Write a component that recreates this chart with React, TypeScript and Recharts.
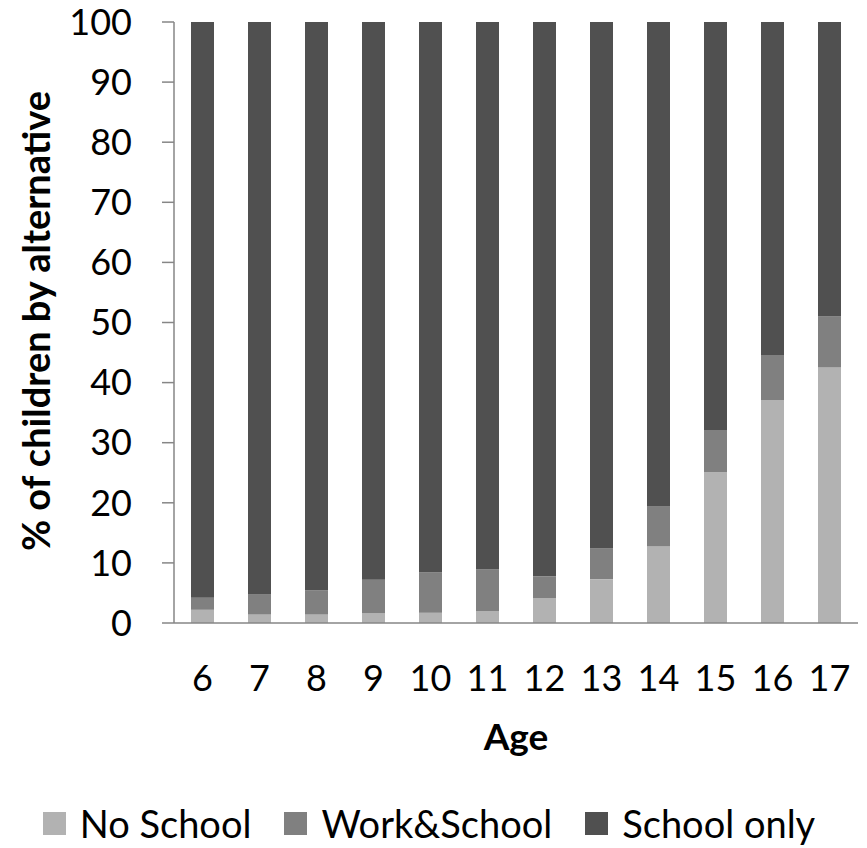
import React from 'react';
import { BarChart, Bar, XAxis, YAxis, Legend } from 'recharts';

// share of children at each age, by activity
const ages = ['6', '7', '8', '9', '10', '11', '12', '13', '14', '15', '16', '17'];
const noSchool = [2.2, 1.4, 1.4, 1.6, 1.7, 2.0, 4.1, 7.3, 12.8, 25.1, 37.1, 42.5];
const workSchool = [2.0, 3.4, 4.0, 5.6, 6.7, 6.9, 3.7, 5.1, 6.6, 7.0, 7.5, 8.5];
const schoolOnly = [95.8, 95.2, 94.6, 92.8, 91.6, 91.1, 92.2, 87.6, 80.6, 67.9, 55.4, 49.0];
const yTicks = [0, 10, 20, 30, 40, 50, 60, 70, 80, 90, 100];

const series = [
  { key: 'noSchool', name: 'No School', color: '#b2b2b2' },
  { key: 'workSchool', name: 'Work&School', color: '#808080' },
  { key: 'schoolOnly', name: 'School only', color: '#505050' },
];

const data = ages.map((age, i) => ({
  age,
  noSchool: noSchool[i],
  workSchool: workSchool[i],
  schoolOnly: schoolOnly[i],
}));

const FONT = 'Lato, Carlito, Calibri, sans-serif';
const AXIS_GREY = '#868686';

function YTitle() {
  return (
    <text x={50} y={321} transform="rotate(-90, 50, 321)" textAnchor="middle"
      fontFamily={FONT} fontWeight="bold" fontSize={38} fill="#000">
      % of children by alternative
    </text>
  );
}

function XTitle(props: any) {
  const vb = props.viewBox || {};
  const cx = vb.x + vb.width / 2;
  return (
    <text x={cx} y={750} textAnchor="middle" fontFamily={FONT} fontWeight="bold" fontSize={37} fill="#000">
      Age
    </text>
  );
}

function LegendRow() {
  return (
    <div style={{ display: 'flex', justifyContent: 'center', alignItems: 'center', height: 42, fontFamily: FONT, fontSize: 38, color: '#000' }}>
      {series.map((s, i) => (
        <div key={s.key} style={{ display: 'flex', alignItems: 'center', marginLeft: i ? 33 : 0 }}>
          <span style={{ width: 23, height: 23, background: s.color, display: 'inline-block', marginRight: 14 }} />
          <span style={{ lineHeight: 1 }}>{s.name}</span>
        </div>
      ))}
    </div>
  );
}

export default function App() {
  return (
    <div style={{ position: 'absolute', left: 0, top: 0, background: '#fff' }}>
      <BarChart width={867} height={848} data={data} barSize={23}
        margin={{ top: 22, right: 9, bottom: 4, left: 0 }}>
        <XAxis dataKey="age" height={179} tickLine={false} tickSize={0} tickMargin={42}
          axisLine={{ stroke: AXIS_GREY, strokeWidth: 1.5 }}
          tick={{ fill: '#000', fontSize: 36, fontFamily: FONT }}
          label={<XTitle />} />
        <YAxis width={174} domain={[0, 100]} ticks={yTicks} interval={0}
          tickSize={12} tickMargin={30}
          axisLine={{ stroke: AXIS_GREY, strokeWidth: 1.5 }}
          tickLine={{ stroke: AXIS_GREY, strokeWidth: 1.5 }}
          tick={{ fill: '#000', fontSize: 36, fontFamily: FONT }}
          label={<YTitle />} />
        <Legend verticalAlign="bottom" content={() => <LegendRow />} />
        {series.map((s) => (
          <Bar key={s.key} dataKey={s.key} name={s.name} stackId="a" fill={s.color}
            isAnimationActive={false} />
        ))}
      </BarChart>
    </div>
  );
}
